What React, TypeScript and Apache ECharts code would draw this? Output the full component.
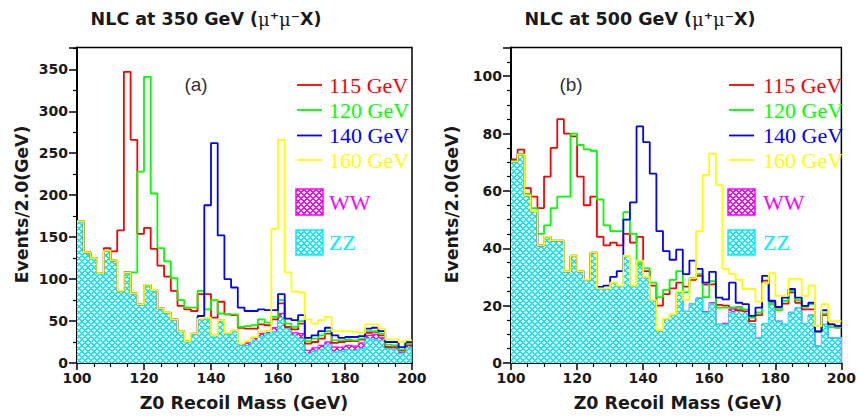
import React, { useEffect, useRef } from 'react';
import * as echarts from 'echarts';

// Bin lower edges (GeV), 2 GeV bins from 100 to 200
const massEdges = Array.from({ length: 50 }, (_, i) => 100 + 2 * i);
const binWidth = 2;
const massMax = 200;

// ---------- Panel (a): NLC at 350 GeV ----------
const zzA = [168, 131, 124, 106, 133, 121, 85, 106, 82, 69, 91, 85, 64, 59, 51, 37, 25, 34, 51, 52, 31, 49, 34, 37, 21,
  21, 27, 31, 35, 37, 54, 41, 33, 29, 11, 14, 16, 22, 13, 14, 16, 15, 17, 29, 28, 27, 17, 16, 11, 18];
const wwA = [1, 1, 1, 1, 1, 1, 1, 2, 1, 1, 2, 2, 1, 1, 1, 1, 1, 1, 2, 2, 2, 2, 2, 2, 2,
  3, 3, 4, 3, 5, 5, 2, 3, 6, 4, 4, 5, 3, 6, 5, 5, 5, 7, 4, 6, 3, 2, 2, 2, 3];
const h115A = [169, 132, 125, 107, 137, 133, 158, 347, 266, 154, 161, 136, 116, 103, 86, 68, 64, 62, 82, 82, 54, 73, 58, 57, 42,
  41, 41, 46, 45, 52, 71, 43, 40, 47, 23, 25, 29, 35, 24, 25, 26, 26, 28, 36, 37, 33, 19, 19, 15, 21];
const h120A = [169, 132, 125, 107, 134, 122, 86, 108, 108, 228, 341, 202, 137, 121, 101, 75, 66, 66, 86, 64, 75, 59, 58, 58, 43,
  44, 45, 52, 48, 55, 75, 47, 43, 50, 26, 29, 33, 38, 27, 27, 28, 27, 29, 38, 38, 35, 22, 21, 16, 23];
const h140A = [169, 132, 125, 107, 134, 122, 86, 108, 83, 70, 93, 87, 65, 60, 52, 38, 26, 35, 56, 188, 262, 152, 100, 90, 66,
  62, 62, 64, 63, 63, 82, 53, 51, 57, 30, 33, 38, 42, 33, 30, 31, 31, 32, 41, 42, 38, 25, 25, 19, 25];
const h160A = [169, 132, 125, 107, 134, 122, 86, 108, 83, 70, 93, 87, 65, 60, 52, 38, 26, 35, 53, 54, 33, 51, 36, 39, 23,
  26, 31, 37, 38, 160, 266, 108, 85, 84, 52, 47, 51, 55, 38, 38, 38, 37, 36, 46, 46, 41, 28, 28, 25, 27];

// ---------- Panel (b): NLC at 500 GeV ----------
const zzB = [70, 72.5, 58.3, 52.8, 40.8, 43.8, 42.5, 42.5, 31.8, 37.2, 31.8, 28.8, 38.3, 25.8, 25.8, 27.8, 26.8, 37.2, 26.8, 35.5, 29.8, 21.8, 11.3, 15.3, 16.8,
  24.6, 18, 20.7, 22.6, 17.6, 20.7, 13.5, 13.5, 17.6, 19.3, 18, 13.7, 8.8, 13.7, 21.7, 14.6, 13.5, 17.6, 19.3, 13.7, 16.7, 5.9, 13.5, 8.8, 8.8];
const wwB = [0, 0, 0, 0, 0, 0, 0, 0, 0, 0, 0, 0, 0, 0, 0, 0, 0, 0, 0, 0, 0, 0, 0, 0, 0,
  0, 0, 0, 0, 0.3, 0.3, 0, 0.3, 1.2, 0.3, 0, 0, 0, 0, 0, 0, 0, 0, 0, 0, 0, 0, 0, 0, 0];
const h115B = [71, 74.4, 61, 58, 54, 65, 75, 85, 80, 79, 65, 55, 58, 44, 41, 42, 41, 45, 42, 44, 32, 27, 20, 24, 26,
  28, 26.6, 29, 30.4, 27.3, 27.5, 20.3, 20, 19.3, 18.4, 18, 14.6, 16.7, 28.7, 21.4, 19.3, 20.7, 24.6, 21, 18.7, 18.7, 10.9, 16.7, 13.5, 12.3];
const h120B = [70.5, 73, 59, 54, 45, 48, 54, 58, 58, 80, 76, 74.5, 74, 57, 48, 46, 46, 52.6, 45, 34.5, 33, 28, 23, 25.5, 29,
  32, 24.6, 29.6, 31, 23, 28.5, 19.3, 19.3, 19.3, 19.3, 18.7, 15.8, 17.6, 28, 20.5, 18.4, 21.7, 25.2, 21.9, 19.6, 20.5, 10.9, 17.2, 12.5, 12.3];
const h140B = [70.2, 72.7, 58.5, 53, 41, 44, 42.7, 42.7, 32, 37.4, 32, 29, 38.5, 26.5, 27, 30, 32, 50, 56, 82.5, 77, 66, 46, 39, 36,
  39.5, 31, 35.7, 32.8, 28, 31.8, 22.8, 22.2, 28, 21, 20.5, 16.4, 19.3, 30.4, 21.7, 19.6, 22.8, 25.8, 22.8, 19.9, 21, 11, 18.4, 13.5, 12.9];
const h160B = [70.2, 72.7, 58.5, 53, 41, 44, 42.7, 42.7, 32, 37.4, 32, 29, 38.5, 26, 26, 28, 27, 37.4, 27, 35.7, 30, 22, 11.5, 15.5, 17,
  25, 22, 29.5, 46, 65.6, 73, 62, 32.8, 31, 29, 25.8, 25.8, 21.4, 27.8, 31.3, 23.4, 23.4, 29.3, 29.3, 23.4, 27, 12.9, 20.5, 14.6, 14.6];

const signalNames = ['115 GeV', '120 GeV', '140 GeV', '160 GeV'];
const signalColors = ['#ff0000', '#00ff00', '#0000ff', '#ffff00'];
const xTicks = { min: 100, max: 200, interval: 20 };
const yMaxA = 376;
const yMaxB = 110;

const CYAN = '#00f0ff';
const MAGENTA = '#ff00ff';

function toStep(values: number[]) {
  const pts = values.map((v, i) => [massEdges[i], v]);
  pts.push([massMax, values[values.length - 1]]);
  return pts;
}

// 6x6 crosshatch tile: coloured 45-degree lines with white diamond holes
function makePattern(color: string) {
  const n = 6;
  const c = document.createElement('canvas');
  c.width = n;
  c.height = n;
  const ctx = c.getContext('2d')!;
  ctx.fillStyle = '#ffffff';
  ctx.fillRect(0, 0, n, n);
  ctx.fillStyle = color;
  for (let y = 0; y < n; y++) {
    for (let x = 0; x < n; x++) {
      const a = (x + y) % n;
      const b = (x - y + n) % n;
      if (a === 0 || a === 1 || b === 0 || b === 1) ctx.fillRect(x, y, 1, 1);
    }
  }
  return { image: c, repeat: 'repeat', imageWidth: n, imageHeight: n } as any;
}

const tickFont = { fontFamily: 'DejaVu Sans', fontWeight: 'bold' as const, fontSize: 14, color: '#1a1a1a' };

function makeX(gi: number) {
  return {
    gridIndex: gi, type: 'value', ...xTicks,
    axisLine: { onZero: false, lineStyle: { color: '#000', width: 2 } },
    axisTick: { length: 7, lineStyle: { color: '#000', width: 1.5 } },
    minorTick: { show: true, splitNumber: 4, length: 4, lineStyle: { color: '#000', width: 1.2 } },
    splitLine: { show: false }, minorSplitLine: { show: false },
    axisLabel: { ...tickFont, margin: 8 },
  };
}
function makeY(gi: number, max: number, interval: number, minorSplit: number) {
  return {
    gridIndex: gi, type: 'value', min: 0, max, interval,
    axisLine: { onZero: false, lineStyle: { color: '#000', width: 2 } },
    axisTick: { length: 8, lineStyle: { color: '#000', width: 1.5 } },
    minorTick: { show: true, splitNumber: minorSplit, length: 4, lineStyle: { color: '#000', width: 1.2 } },
    splitLine: { show: false }, minorSplitLine: { show: false },
    axisLabel: { ...tickFont, margin: 9, showMaxLabel: false },
  };
}

function txt(x: number, y: number, text: string, font: string, fill: string, align = 'left', extra: any = {}) {
  return {
    type: 'text', x, y, z: 100, silent: true, ...extra,
    style: { text, font, fill, align, textAlign: align, verticalAlign: 'middle', textVerticalAlign: 'middle' },
  };
}

export default function App() {
  const ref = useRef<HTMLDivElement>(null);
  useEffect(() => {
    const chart = echarts.init(ref.current!, null, { renderer: 'svg' });
    const cyanPat = makePattern(CYAN);
    const magPat = makePattern(MAGENTA);

    const series: any[] = [];
    const panels = [
      { zz: zzA, ww: wwA, sig: [h115A, h120A, h140A, h160A] },
      { zz: zzB, ww: wwB, sig: [h115B, h120B, h140B, h160B] },
    ];
    panels.forEach((p, k) => {
      // background histograms (ZZ filled, WW stacked on top), each bin drawn through the axes' coord()
      const bgData = massEdges.map((lo, i) => [
        lo, p.zz[i], p.ww[i],
        i + 1 < p.zz.length ? p.zz[i + 1] : 0,
        i + 1 < p.ww.length ? p.ww[i + 1] : 0,
      ]);
      series.push({
        name: 'ZZ+WW', type: 'custom', xAxisIndex: k, yAxisIndex: k, clip: true, z: 2,
        data: bgData, encode: { x: 0, y: 1 },
        renderItem: (params: any, api: any) => {
          const lo = api.value(0);
          const zz = api.value(1);
          const ww = api.value(2);
          const zzN = api.value(3);
          const wwN = api.value(4);
          const hi = lo + binWidth;
          const p0 = api.coord([lo, 0]);
          const p1 = api.coord([hi, zz]);
          const p2 = api.coord([hi, zz + ww]);
          const pN1 = api.coord([hi, zzN]);
          const pN2 = api.coord([hi, zzN + wwN]);
          const w = p1[0] - p0[0];
          return {
            type: 'group',
            children: [
              { type: 'rect', shape: { x: p0[0], y: p1[1], width: w + 0.4, height: p0[1] - p1[1] }, style: { fill: cyanPat } },
              { type: 'rect', shape: { x: p0[0], y: p2[1], width: w + 0.4, height: p1[1] - p2[1] }, style: { fill: magPat } },
              { type: 'polyline', shape: { points: [[p0[0], p2[1]], [p2[0], p2[1]], [p2[0], pN2[1]]] }, style: { stroke: MAGENTA, lineWidth: 1.3, fill: null } },
              { type: 'polyline', shape: { points: [[p0[0], p1[1]], [p1[0], p1[1]], [p1[0], pN1[1]]] }, style: { stroke: CYAN, lineWidth: 1.3, fill: null } },
            ],
          };
        },
      });
      p.sig.forEach((s, j) => {
        series.push({
          name: signalNames[j], type: 'line', xAxisIndex: k, yAxisIndex: k, step: 'end', symbol: 'none',
          data: toStep(s), lineStyle: { color: signalColors[j], width: 1.8 }, z: 4 + j,
        });
      });
    });

    const graphics: any[] = [];
    const titleRich = {
      b: { font: 'bold 17.5px "DejaVu Sans"', fill: '#1a1a1a' },
      m: { font: '18px "DejaVu Serif"', fill: '#1a1a1a' },
      s: { font: 'bold 17.5px "DejaVu Sans"', fill: '#1a1a1a' },
    };
    const panelGeo = [
      { title: 'NLC at 350 GeV (', tx: 206, tag: '(a)', tagX: 196, yTitleX: 22, xTitleX: 244, legLine: 297, legText: 329, box: 296 },
      { title: 'NLC at 500 GeV (', tx: 640, tag: '(b)', tagX: 571, yTitleX: 452, xTitleX: 678, legLine: 729, legText: 763, box: 728 },
    ];
    const legendY = [85, 110, 135.5, 160];
    panelGeo.forEach((g) => {
      graphics.push({
        type: 'text', x: g.tx, y: 19, z: 100, silent: true,
        style: {
          text: `{b|${g.title}}{m|μ}{s|⁺}{m|μ}{s|⁻}{b|X)}`, rich: titleRich,
          align: 'center', textAlign: 'center', verticalAlign: 'middle', textVerticalAlign: 'middle',
        },
      });
      graphics.push(txt(g.tagX, 84, g.tag, '19px "Liberation Sans"', '#333', 'center'));
      graphics.push(txt(g.yTitleX, 204.5, 'Events/2.0(GeV)', 'bold 17.3px "DejaVu Sans"', '#1a1a1a', 'center', { rotation: Math.PI / 2 }));
      graphics.push(txt(g.xTitleX, 403, 'Z0 Recoil Mass (GeV)', 'bold 17.5px "DejaVu Sans"', '#1a1a1a', 'center'));
      signalNames.forEach((n, j) => {
        graphics.push({
          type: 'line', silent: true, z: 100,
          shape: { x1: g.legLine, y1: legendY[j], x2: g.legLine + 25, y2: legendY[j] },
          style: { stroke: signalColors[j], lineWidth: 1.8 },
        });
        graphics.push(txt(g.legText, legendY[j], n, '22px "Liberation Serif"', signalColors[j]));
      });
      graphics.push({
        type: 'rect', silent: true, z: 100, shape: { x: g.box, y: 189, width: 27, height: 26 },
        style: { fill: magPat, stroke: MAGENTA, lineWidth: 1.5 },
      });
      graphics.push(txt(g.legText, 202, 'WW', '22px "Liberation Serif"', MAGENTA));
      graphics.push({
        type: 'rect', silent: true, z: 100, shape: { x: g.box, y: 230, width: 27, height: 25 },
        style: { fill: cyanPat, stroke: CYAN, lineWidth: 1.5 },
      });
      graphics.push(txt(g.legText, 242, 'ZZ', '22px "Liberation Serif"', CYAN));
    });

    chart.setOption({
      animation: false,
      backgroundColor: '#ffffff',
      grid: [
        { left: 77, top: 47.5, width: 335, height: 315.5, show: true, borderColor: '#000', borderWidth: 1.5, backgroundColor: 'transparent' },
        { left: 511, top: 47.5, width: 335, height: 315.5, show: true, borderColor: '#000', borderWidth: 1.5, backgroundColor: 'transparent' },
      ],
      xAxis: [makeX(0), makeX(1)],
      yAxis: [makeY(0, yMaxA, 50, 2), makeY(1, yMaxB, 20, 4)],
      series,
      graphic: graphics,
    } as any);
    return () => chart.dispose();
  }, []);
  return <div ref={ref} style={{ position: 'fixed', left: 0, top: 0, width: 859, height: 416, background: '#fff' }} />;
}
